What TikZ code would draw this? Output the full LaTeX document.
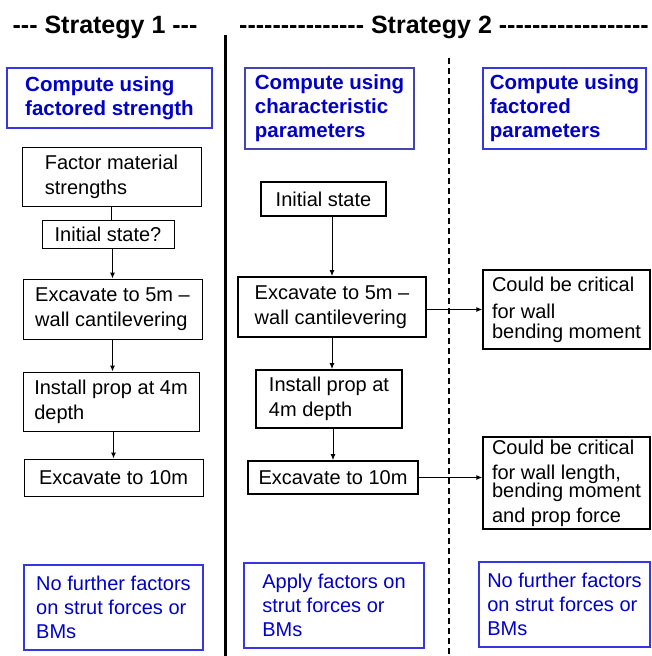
\documentclass[tikz,border=0pt]{standalone}
\usepackage{fontspec}
\setmainfont{Liberation Sans}
\usetikzlibrary{arrows.meta}

\definecolor{boxblue}{RGB}{55,55,225}
\definecolor{txtblue}{RGB}{0,0,200}
\definecolor{darkblue}{RGB}{70,70,170}

% a row of plain hyphens (no en-dash ligature)
\newcommand\dashrun[1]{\foreach\k in {1,...,#1}{-\kern0pt}}

\begin{document}
\begin{tikzpicture}[x=1pt, y=-1pt,
	every node/.style={font=\fontsize{20}{25}\selectfont, align=left, inner sep=0pt},
	stage/.style={draw, line width=1pt},
	stagebold/.style={draw, line width=1.8pt},
	note/.style={draw=boxblue, line width=1.3pt, text=txtblue, font=\fontsize{20}{24}\selectfont},
	head/.style={note, font=\fontsize{20.5}{24}\selectfont\bfseries},
	flow/.style={-{Latex[length=6pt,width=5pt]}, line width=1pt}]
	\useasboundingbox (0,0) rectangle (651,656);

	\node[font=\fontsize{25}{30}\selectfont\bfseries] (title1) at (105,27) {\dashrun{3} Strategy 1 \dashrun{3}};
	\node[font=\fontsize{25}{30}\selectfont\bfseries] (title2) at (444,27) {\dashrun{15} Strategy 2 \dashrun{18}};

	\draw[line width=3pt] (225,35) -- (225,656);
	\draw[dash pattern=on 6pt off 4pt, line width=1.2pt] (449,58) -- (449,656);

	% strategy 1
	\node[head, minimum width=205, minimum height=60] (s1head) at (109.5,98) {Compute using\\factored strength};
	\node[stage, minimum width=179, minimum height=59] (factor) at (111.5,176.5) {Factor material\\strengths};
	\node[stage, minimum width=132, minimum height=28] (init1) at (108,234) {Initial state?};
	\node[stage, minimum width=179, minimum height=60] (dig1) at (112.5,309) {Excavate to 5m –\\wall cantilevering};
	\node[stage, minimum width=176, minimum height=59] (prop1) at (111,401.5) {Install prop at 4m\\depth};
	\node[stage, minimum width=179, minimum height=37] (deep1) at (113.5,477.5) {Excavate to 10m};
	\node[note, minimum width=179, minimum height=85] (s1foot) at (113.5,607.5) {No further factors\\on strut forces or\\BMs};

	\draw[line width=1pt] (factor.south) -- (factor.south |- init1.north);
	\draw[flow] (dig1.north |- init1.south) -- (dig1.north);
	\draw[flow] (dig1.south) -- (dig1.south |- prop1.north);
	\draw[flow] (deep1.north |- prop1.south) -- (deep1.north);

	% strategy 2, characteristic values
	\node[head, draw=darkblue, minimum width=169, minimum height=81] (s2head) at (329.5,108.5) {Compute using\\characteristic\\parameters};
	\node[stagebold, minimum width=125, minimum height=34] (init2) at (323.5,199) {Initial state};
	\node[stagebold, minimum width=188, minimum height=60] (dig2) at (332,307) {Excavate to 5m –\\wall cantilevering};
	\node[stagebold, minimum width=146, minimum height=58] (prop2) at (329,399) {Install prop at\\4m depth};
	\node[stagebold, minimum width=170, minimum height=33] (deep2) at (333,477.5) {Excavate to 10m};
	\node[note, minimum width=180, minimum height=85] (s2foot) at (334,605.5) {Apply factors on\\strut forces or\\BMs};

	\draw[flow] (dig2.north |- init2.south) -- (dig2.north);
	\draw[flow] (dig2.south) -- (dig2.south |- prop2.north);
	\draw[flow] (deep2.north |- prop2.south) -- (deep2.north);

	% strategy 2, factored values
	\node[head, minimum width=163, minimum height=81] (s3head) at (564.5,108.5) {Compute using\\factored\\parameters};
	\node[stage, line width=1.4pt, minimum width=167, minimum height=79] (crit1) at (566.5,309.5) {Could be critical\\[2pt]for wall\\[-5pt]bending moment};
	\node[stage, line width=1.4pt, minimum width=167, minimum height=92] (crit2) at (566.5,483) {Could be critical\\for wall length,\\[-7pt]bending moment\\and prop force};
	\node[note, minimum width=171, minimum height=85] (s3foot) at (564.5,604.5) {No further factors\\on strut forces or\\BMs};

	\draw[flow] (dig2.east |- crit1.west) -- (crit1.west);
	\draw[flow] (deep2.east) -- (crit2.west |- deep2.east);

\end{tikzpicture}
\end{document}
